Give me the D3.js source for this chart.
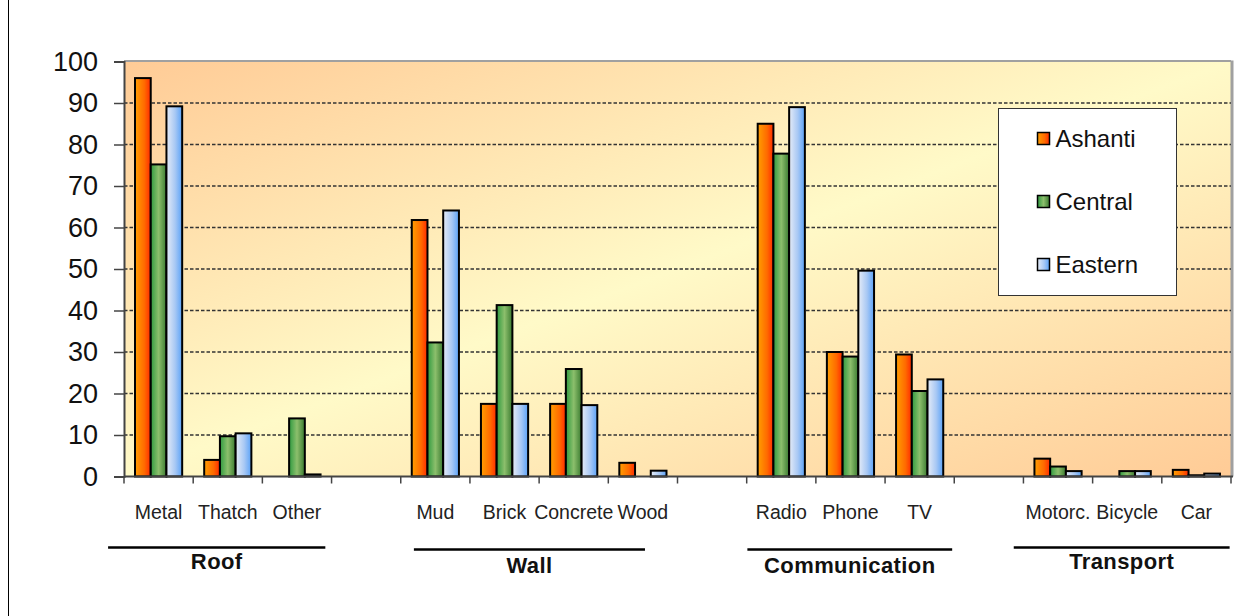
<!DOCTYPE html>
<html>
<head>
<meta charset="utf-8">
<script src="https://cdn.jsdelivr.net/npm/d3@7"></script>
<style>
  body { margin: 0; background: #fff; }
  text { font-family: Arial, "Liberation Sans", sans-serif; }
</style>
</head>
<body>
<div class="chart"></div>
<script>
// categories (empty slots are the gaps between groups)
var categories = ["Metal", "Thatch", "Other", "gap1", "Mud", "Brick", "Concrete", "Wood", "gap2",
                  "Radio", "Phone", "TV", "gap3", "Motorc.", "Bicycle", "Car"];
var series = ["Ashanti", "Central", "Eastern"];
var ashanti = [96, 4, 0, 0, 61.8, 17.5, 17.5, 3.3, 0, 85, 30, 29.4, 0, 4.3, 0, 1.6];
var central = [75.2, 9.7, 14, 0, 32.3, 41.3, 25.9, 0, 0, 77.8, 28.9, 20.6, 0, 2.4, 1.3, 0.3];
var eastern = [89.2, 10.4, 0.5, 0, 64.1, 17.5, 17.2, 1.4, 0, 89, 49.6, 23.4, 0, 1.3, 1.3, 0.7];
var yTicks = [0, 10, 20, 30, 40, 50, 60, 70, 80, 90, 100];
// group underline spans, in category units (hand drawn in the original)
var groups = [
  { name: "Roof", from: -0.23, to: 2.91 },
  { name: "Wall", from: 4.19, to: 7.53 },
  { name: "Communication", from: 9.01, to: 11.97 },
  { name: "Transport", from: 12.86, to: 15.98 }
];

var svgWidth = 1253;
var svgHeight = 616;
var margin = { top: 61.5, right: 22, bottom: 139.5, left: 124 };
var width = svgWidth - margin.left - margin.right;
var height = svgHeight - margin.top - margin.bottom;

var svg = d3.select(".chart").append("svg")
  .attr("width", svgWidth)
  .attr("height", svgHeight);

var defs = svg.append("defs");
// plot area background
var bg = defs.append("linearGradient").attr("id", "bgGrad")
  .attr("x1", 0).attr("y1", 0).attr("x2", 1).attr("y2", 1);
bg.append("stop").attr("offset", "0%").attr("stop-color", "#ffcb96");
bg.append("stop").attr("offset", "50%").attr("stop-color", "#fffac8");
bg.append("stop").attr("offset", "100%").attr("stop-color", "#ffcb96");

// bar fills
var barStops = {
  Ashanti: [["0%", "#ff9f00"], ["60%", "#ff6a00"], ["100%", "#ff2a00"]],
  Central: [["0%", "#2f9a40"], ["50%", "#8cbf6c"], ["100%", "#3a7a30"]],
  Eastern: [["0%", "#e6ecf7"], ["55%", "#a8c8f4"], ["100%", "#5aa2f8"]]
};
series.forEach(function(s) {
  var g = defs.append("linearGradient").attr("id", "bar" + s)
    .attr("x1", 0).attr("y1", 0).attr("x2", 1).attr("y2", 0);
  barStops[s].forEach(function(st) {
    g.append("stop").attr("offset", st[0]).attr("stop-color", st[1]);
  });
});

// outer chart border (left side only visible)
svg.append("line")
  .attr("x1", 8.5).attr("x2", 8.5).attr("y1", 0).attr("y2", svgHeight)
  .attr("stroke", "#000").attr("stroke-width", 1);

var chartGroup = svg.append("g")
  .attr("transform", `translate(${margin.left}, ${margin.top})`);

var x = d3.scaleBand().domain(categories).range([0, width]).padding(0);
var xSub = d3.scaleBand().domain(series).range([0, x.bandwidth()])
  .paddingInner(0).paddingOuter(0.7);
var y = d3.scaleLinear().domain([0, 100]).range([height, 0]);
// category units -> pixels, for the group underlines
var xPos = d3.scaleLinear().domain([0, categories.length]).range([0, width]);

chartGroup.append("rect")
  .attr("width", width).attr("height", height)
  .attr("fill", "url(#bgGrad)");

// plot border top / right
chartGroup.append("line")
  .attr("x1", 0).attr("x2", width).attr("y1", -0.5).attr("y2", -0.5)
  .attr("stroke", "#a0a0a0").attr("stroke-width", 2);
chartGroup.append("line")
  .attr("x1", width + 1).attr("x2", width + 1).attr("y1", -1).attr("y2", height)
  .attr("stroke", "#a0a0a0").attr("stroke-width", 3);

// gridlines
chartGroup.append("g")
  .selectAll("line")
  .data(yTicks.filter(d => d > 0 && d < 100))
  .enter().append("line")
  .attr("x1", 0).attr("x2", width)
  .attr("y1", d => y(d)).attr("y2", d => y(d))
  .attr("stroke", "#333").attr("stroke-width", 1.3)
  .attr("stroke-dasharray", "3.5,2");

// y axis
var yAxis = chartGroup.append("g")
  .call(d3.axisLeft(y).tickValues(yTicks).tickSize(10).tickPadding(16));
yAxis.select(".domain").attr("stroke", "#444").attr("stroke-width", 2);
yAxis.selectAll(".tick line").attr("stroke", "#444").attr("stroke-width", 1.5);
yAxis.selectAll("text")
  .style("font-size", "27px").attr("fill", "#111")
  .style("font-family", "Arial, 'Liberation Sans', sans-serif");

// bars
var data = series.map(function(s, i) {
  var vals = [ashanti, central, eastern][i];
  return categories.map((c, j) => ({ series: s, cat: c, value: vals[j] }));
});
var flat = [].concat.apply([], data).filter(d => d.value > 0);

chartGroup.append("g")
  .selectAll("rect")
  .data(flat)
  .enter().append("rect")
  .attr("x", d => x(d.cat) + xSub(d.series))
  .attr("y", d => y(d.value))
  .attr("width", xSub.bandwidth())
  .attr("height", d => height - y(d.value))
  .attr("fill", d => "url(#bar" + d.series + ")")
  .attr("stroke", "#000")
  .attr("stroke-width", 2);

// x axis
var xAxisG = chartGroup.append("g")
  .attr("transform", `translate(0, ${height})`);
xAxisG.append("line")
  .attr("x1", 0).attr("x2", width + 2)
  .attr("stroke", "#444").attr("stroke-width", 2);
xAxisG.selectAll(".xtick")
  .data(categories.concat(["end"]))
  .enter().append("line")
  .attr("class", "xtick")
  .attr("x1", (d, i) => i < categories.length ? x(d) : width)
  .attr("x2", (d, i) => i < categories.length ? x(d) : width)
  .attr("y1", 0).attr("y2", 7)
  .attr("stroke", "#444").attr("stroke-width", 1.5);
xAxisG.selectAll(".xlabel")
  .data(categories.filter(c => c.indexOf("gap") !== 0))
  .enter().append("text")
  .attr("class", "xlabel")
  .attr("x", d => x(d) + x.bandwidth() / 2)
  .attr("y", 42.5)
  .attr("text-anchor", "middle")
  .style("font-size", "19.5px")
  .attr("fill", "#222")
  .text(d => d);

// group labels with underline
var groupG = chartGroup.selectAll(".grp")
  .data(groups)
  .enter().append("g")
  .attr("class", "grp");
groupG.append("line")
  .attr("x1", d => xPos(d.from))
  .attr("x2", d => xPos(d.to))
  .attr("y1", d => height + (d.name === "Wall" || d.name === "Communication" ? 73 : 71))
  .attr("y2", d => height + (d.name === "Wall" || d.name === "Communication" ? 73 : 71))
  .attr("stroke", "#000").attr("stroke-width", 2.5);
groupG.append("text")
  .attr("x", d => (xPos(d.from) + xPos(d.to)) / 2)
  .attr("y", d => height + (d.name === "Wall" || d.name === "Communication" ? 96 : 92))
  .attr("text-anchor", "middle")
  .style("font-size", "22px")
  .style("font-weight", "bold")
  .style("letter-spacing", "0.4px")
  .attr("fill", "#111")
  .text(d => d.name);

// legend
var legend = svg.append("g").attr("transform", "translate(998.5, 108.5)");
legend.append("rect")
  .attr("width", 178).attr("height", 187)
  .attr("fill", "#fff").attr("stroke", "#333").attr("stroke-width", 1);
var legItem = legend.selectAll(".leg")
  .data(series)
  .enter().append("g")
  .attr("class", "leg")
  .attr("transform", (d, i) => `translate(39, ${30 + i * 63})`);
legItem.append("rect")
  .attr("x", 0).attr("y", -6).attr("width", 12).attr("height", 12)
  .attr("fill", d => "url(#bar" + d + ")")
  .attr("stroke", "#000").attr("stroke-width", 1.5);
legItem.append("text")
  .attr("x", 18).attr("y", 8.5)
  .style("font-size", "24px")
  .attr("fill", "#111")
  .text(d => d);
</script>
</body>
</html>
